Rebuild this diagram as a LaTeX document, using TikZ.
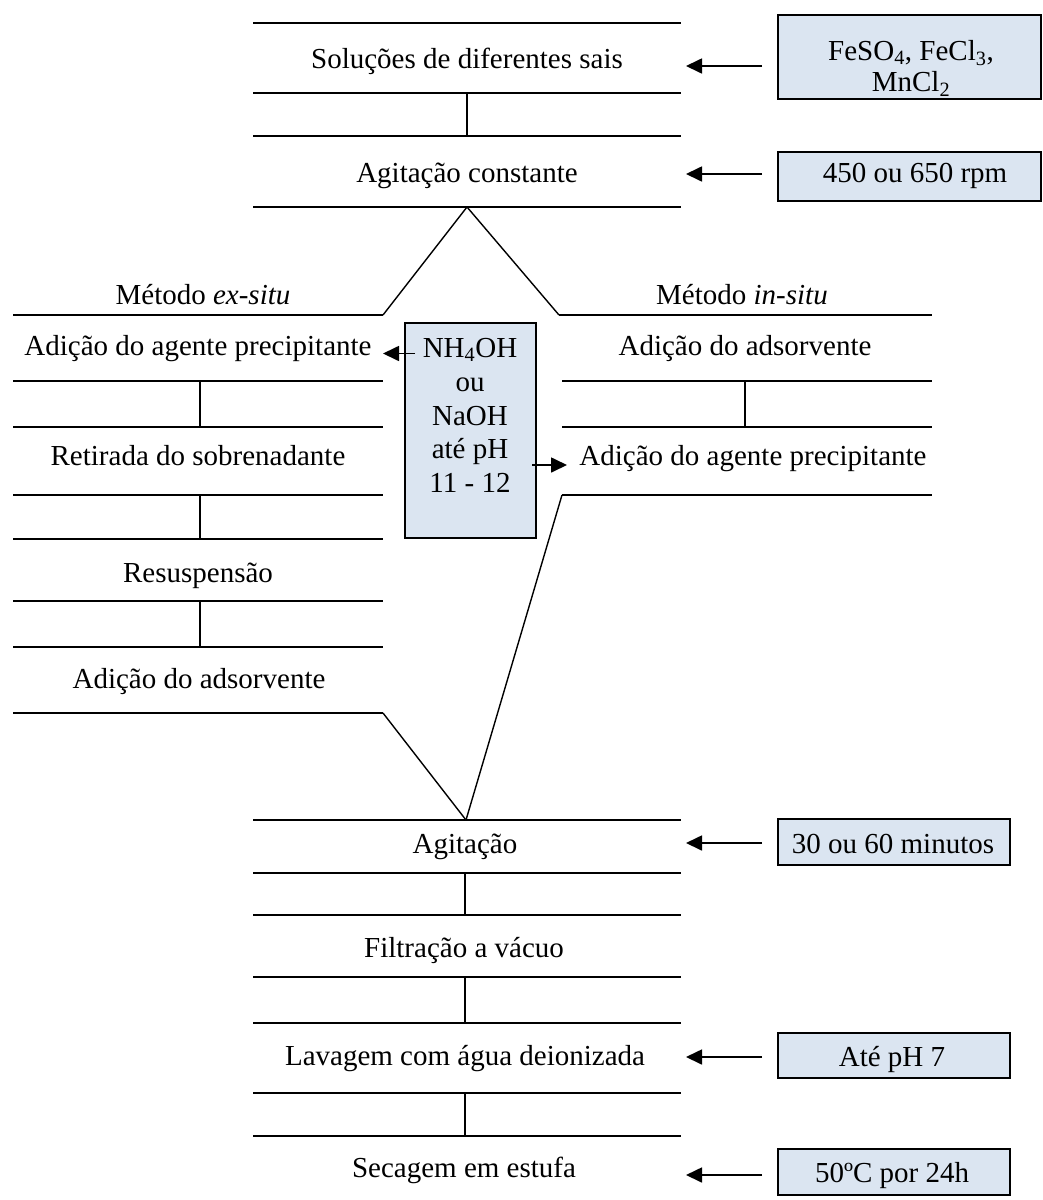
\documentclass[tikz,border=0pt]{standalone}
\usepackage{fontspec}
\setmainfont{Liberation Serif}
\usetikzlibrary{arrows.meta}
\definecolor{boxblue}{RGB}{219,229,241}
\begin{document}
\begin{tikzpicture}[x=1pt,y=-1pt,
  hl/.style={line width=2pt},
  conn/.style={line width=1.4pt},
  txt/.style={font=\fontsize{29}{34}\selectfont, anchor=base, inner sep=0pt},
  infobox/.style={draw, line width=1.8pt, fill=boxblue, inner sep=0pt},
  arr/.style={line width=1.7pt, -{Triangle[length=16pt,width=15pt]}}
]
\useasboundingbox (0,0) rectangle (1043,1200);

% ---------- main column (top) ----------
\draw[hl] (253,23) -- (681,23);
\node[txt] (t1) at (467,68) {Soluções de diferentes sais};
\draw[hl] (253,93) -- (681,93);
\coordinate (c1a) at (467,93);
\coordinate (c1b) at (467,136);
\draw[conn] (c1a) -- (c1b);
\draw[hl] (253,136) -- (681,136);
\node[txt] (t2) at (467,182) {Agitação constante};
\draw[hl] (253,207) -- (681,207);
\coordinate (apex) at (467,207);

% ---------- branches ----------
\coordinate (exj) at (383,315);
\coordinate (inj) at (559,315);
\draw[conn] (apex) -- (exj);
\draw[conn] (apex) -- (inj);
\draw[hl] (13,315) -- (exj);
\draw[hl] (inj) -- (932,315);
\node[txt] (mex) at (203,304) {Método \textit{ex-situ}};
\node[txt] (min) at (742,304) {Método \textit{in-situ}};

% ---------- left column (ex-situ) ----------
\node[txt] (l1) at (198,355) {Adição do agente precipitante};
\draw[hl] (13,381) -- (383,381);
\coordinate (l1a) at (200,381);
\coordinate (l1b) at (200,427);
\draw[conn] (l1a) -- (l1b);
\draw[hl] (13,427) -- (383,427);
\node[txt] (l2) at (198,465) {Retirada do sobrenadante};
\draw[hl] (13,495) -- (383,495);
\coordinate (l2a) at (200,495);
\coordinate (l2b) at (200,539);
\draw[conn] (l2a) -- (l2b);
\draw[hl] (13,539) -- (383,539);
\node[txt] (l3) at (198,582) {Resuspensão};
\draw[hl] (13,601) -- (383,601);
\coordinate (l3a) at (200,601);
\coordinate (l3b) at (200,647);
\draw[conn] (l3a) -- (l3b);
\draw[hl] (13,647) -- (383,647);
\node[txt] (l4) at (199,688) {Adição do adsorvente};
\coordinate (exend) at (383,713);
\draw[hl] (13,713) -- (exend);

% ---------- right column (in-situ) ----------
\node[txt] (r1) at (745,355) {Adição do adsorvente};
\draw[hl] (562,381) -- (932,381);
\coordinate (r1a) at (745,381);
\coordinate (r1b) at (745,427);
\draw[conn] (r1a) -- (r1b);
\draw[hl] (562,427) -- (932,427);
\node[txt] (r2) at (753,465) {Adição do agente precipitante};
\coordinate (inend) at (562,495);
\draw[hl] (inend) -- (932,495);

% ---------- merge ----------
\coordinate (merge) at (466,820);
\draw[conn] (exend) -- (merge);
\draw[conn] (inend) -- (merge);

% ---------- main column (bottom) ----------
\draw[hl] (253,820) -- (681,820);
\node[txt] (t3) at (465,853) {Agitação};
\draw[hl] (253,873) -- (681,873);
\coordinate (c3a) at (465,873);
\coordinate (c3b) at (465,915);
\draw[conn] (c3a) -- (c3b);
\draw[hl] (253,915) -- (681,915);
\node[txt] (t4) at (464,957) {Filtração a vácuo};
\draw[hl] (253,977) -- (681,977);
\coordinate (c4a) at (465,977);
\coordinate (c4b) at (465,1023);
\draw[conn] (c4a) -- (c4b);
\draw[hl] (253,1023) -- (681,1023);
\node[txt] (t5) at (465,1065) {Lavagem com água deionizada};
\draw[hl] (253,1093) -- (681,1093);
\coordinate (c5a) at (465,1093);
\coordinate (c5b) at (465,1136);
\draw[conn] (c5a) -- (c5b);
\draw[hl] (253,1136) -- (681,1136);
\node[txt] (t6) at (464,1177) {Secagem em estufa};

% ---------- side boxes ----------
\node[infobox, minimum width=263pt, minimum height=84pt] (b1) at (909.5,57) {};
\node[inner sep=0pt, align=center, font=\fontsize{29}{31}\selectfont] (b1t) at (911,68)
  {FeSO\textsubscript{4}, FeCl\textsubscript{3},\\MnCl\textsubscript{2}};
\node[infobox, minimum width=263pt, minimum height=49pt] (b2) at (909.5,176.5) {};
\node[txt] (b2t) at (915,182) {450 ou 650 rpm};
\node[infobox, minimum width=232pt, minimum height=46pt] (b3) at (894,842) {};
\node[txt] (b3t) at (893,853) {30 ou 60 minutos};
\node[infobox, minimum width=232pt, minimum height=45pt] (b4) at (894,1055.5) {};
\node[txt] (b4t) at (892,1066) {Até pH 7};
\node[infobox, minimum width=232pt, minimum height=46pt] (b5) at (894,1172) {};
\node[txt] (b5t) at (892,1182) {50ºC por 24h};

\coordinate (a1s) at (762,66);   \coordinate (a1e) at (686,66);
\coordinate (a2s) at (762,174);  \coordinate (a2e) at (686,174);
\coordinate (a3s) at (762,843);  \coordinate (a3e) at (686,843);
\coordinate (a4s) at (762,1057); \coordinate (a4e) at (686,1057);
\coordinate (a5s) at (762,1175); \coordinate (a5e) at (686,1175);
\draw[arr] (a1s) -- (a1e);
\draw[arr] (a2s) -- (a2e);
\draw[arr] (a3s) -- (a3e);
\draw[arr] (a4s) -- (a4e);
\draw[arr] (a5s) -- (a5e);

% ---------- middle reagent box ----------
\node[infobox, minimum width=131pt, minimum height=215pt] (mb) at (470.5,430.5) {};
\node[txt] (m1) at (470,357) {NH\textsubscript{4}OH};
\node[txt] (m2) at (470,391) {ou};
\node[txt] (m3) at (470,425) {NaOH};
\node[txt] (m4) at (470,458.5) {até pH};
\node[txt] (m5) at (470,492) {11 - 12};
\coordinate (mls) at (415,353.5); \coordinate (mle) at (383,353.5);
\coordinate (mrs) at (532,465);   \coordinate (mre) at (567,465);
\draw[arr] (mls) -- (mle);
\draw[arr] (mrs) -- (mre);
\end{tikzpicture}
\end{document}
